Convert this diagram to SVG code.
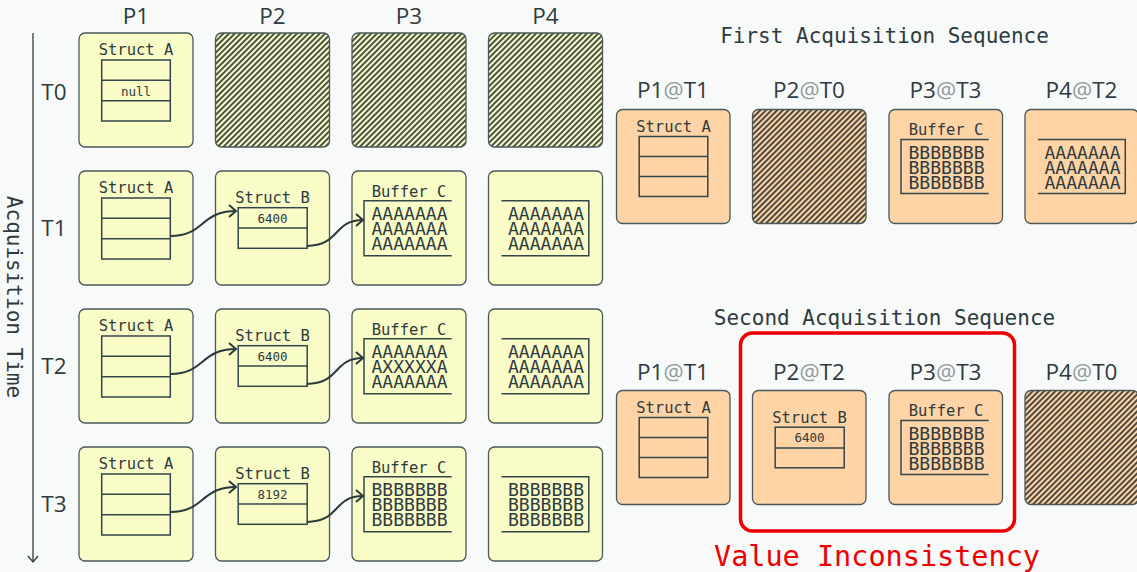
<svg xmlns="http://www.w3.org/2000/svg" width="1137" height="572" viewBox="0 0 1137 572">
  <defs>
    <style>
      .bg { fill: #f8f9f9; }
      .page { fill: #fafcc7; stroke: #4a5859; stroke-width: 1.3; }
      .page.o { fill: #fed4a6; }
      .page.hy { fill: url(#hatchY); }
      .page.ho { fill: url(#hatchO); }
      .tbl { fill: none; stroke: #33464a; stroke-width: 1.5; }
      .mono { font-family: "DejaVu Sans Mono", "Liberation Mono", monospace; fill: #2e3b3e; text-anchor: middle; }
      .sans { font-family: "Open Sans", "Noto Sans", "Liberation Sans", sans-serif; fill: #2e3b3e; text-anchor: middle; font-size: 22.5px; }
      .ttl { font-size: 15.5px; }
      .sm { font-size: 12.5px; }
      .data { font-size: 17.5px; }
      .head { font-size: 21px; }
      .at { fill: #8f9a9c; }
      .wire { fill: none; stroke: #2b3a3d; stroke-width: 2; marker-end: url(#ah); }
      .axis { fill: none; stroke: #2e3b3e; stroke-width: 1.3; }
    </style>
    <pattern id="hatchY" width="4" height="4" patternUnits="userSpaceOnUse" patternTransform="rotate(45)">
      <rect width="4" height="4" fill="#fafcc7"/>
      <line x1="2" y1="0" x2="2" y2="4" stroke="#1f2828" stroke-width="1.6"/>
    </pattern>
    <pattern id="hatchO" width="4" height="4" patternUnits="userSpaceOnUse" patternTransform="rotate(45)">
      <rect width="4" height="4" fill="#fed4a6"/>
      <line x1="2" y1="0" x2="2" y2="4" stroke="#1f2828" stroke-width="1.6"/>
    </pattern>
    <marker id="ah" markerUnits="userSpaceOnUse" markerWidth="12" markerHeight="14" refX="8" refY="7" orient="auto">
      <path d="M1,1 L8,7 L1,13" fill="none" stroke="#2b3a3d" stroke-width="2"/>
    </marker>
  </defs>

  <rect class="bg" width="1137" height="572"/>

  <!-- column and row headings -->
  <g id="headings">
    <text class="sans" x="136" y="23.5">P1</text>
    <text class="sans" x="272.5" y="23.5">P2</text>
    <text class="sans" x="409" y="23.5">P3</text>
    <text class="sans" x="545.5" y="23.5">P4</text>
    <text class="sans" x="54" y="100">T0</text>
    <text class="sans" x="54" y="236">T1</text>
    <text class="sans" x="54" y="374">T2</text>
    <text class="sans" x="54" y="511.5">T3</text>
  </g>

  <!-- time axis -->
  <g id="time-axis">
    <line class="axis" x1="33" y1="33" x2="33" y2="562"/>
    <path class="axis" d="M28,556 L33,562 L38,556"/>
    <text class="mono head" transform="translate(7,297) rotate(90)">Acquisition Time</text>
  </g>

  <!-- T0 row -->
  <g id="p1-t0" transform="translate(79,33)">
    <rect class="page" width="114" height="114" rx="6"/>
    <text class="mono ttl" x="57" y="22">Struct A</text>
    <rect class="tbl" x="22.7" y="27" width="68.6" height="61"/>
    <path class="tbl" d="M22.7,47.3H91.3M22.7,67.7H91.3"/>
    <text class="mono sm" x="57" y="62.5">null</text>
  </g>
  <g id="p2-t0" transform="translate(215.5,33)">
    <rect class="page hy" width="114" height="114" rx="6"/>
  </g>
  <g id="p3-t0" transform="translate(352,33)">
    <rect class="page hy" width="114" height="114" rx="6"/>
  </g>
  <g id="p4-t0" transform="translate(488.5,33)">
    <rect class="page hy" width="114" height="114" rx="6"/>
  </g>

  <!-- T1 row -->
  <g id="p1-t1" transform="translate(79,171)">
    <rect class="page" width="114" height="114" rx="6"/>
    <text class="mono ttl" x="57" y="22">Struct A</text>
    <rect class="tbl" x="22.7" y="27" width="68.6" height="61"/>
    <path class="tbl" d="M22.7,47.3H91.3M22.7,67.7H91.3"/>
  </g>
  <g id="p2-t1" transform="translate(215.5,171)">
    <rect class="page" width="114" height="114" rx="6"/>
    <text class="mono ttl" x="57" y="32.3">Struct B</text>
    <rect class="tbl" x="22.7" y="36.7" width="69" height="40.6"/>
    <path class="tbl" d="M22.7,57H91.7"/>
    <text class="mono sm" x="57" y="51.7">6400</text>
  </g>
  <g id="p3-t1" transform="translate(352,171)">
    <rect class="page" width="114" height="114" rx="6"/>
    <text class="mono ttl" x="57" y="25.5">Buffer C</text>
    <path class="tbl" d="M99.7,29.7H12V84.7H99.7"/>
    <text class="mono data" x="57.5" y="49" textLength="76" lengthAdjust="spacingAndGlyphs">AAAAAAA</text>
    <text class="mono data" x="57.5" y="64" textLength="76" lengthAdjust="spacingAndGlyphs">AAAAAAA</text>
    <text class="mono data" x="57.5" y="79" textLength="76" lengthAdjust="spacingAndGlyphs">AAAAAAA</text>
  </g>
  <g id="p4-t1" transform="translate(488.5,171)">
    <rect class="page" width="114" height="114" rx="6"/>
    <path class="tbl" d="M13,29.7H100.3V84.7H13"/>
    <text class="mono data" x="57.5" y="49" textLength="76" lengthAdjust="spacingAndGlyphs">AAAAAAA</text>
    <text class="mono data" x="57.5" y="64" textLength="76" lengthAdjust="spacingAndGlyphs">AAAAAAA</text>
    <text class="mono data" x="57.5" y="79" textLength="76" lengthAdjust="spacingAndGlyphs">AAAAAAA</text>
  </g>

  <!-- T2 row -->
  <g id="p1-t2" transform="translate(79,309)">
    <rect class="page" width="114" height="114" rx="6"/>
    <text class="mono ttl" x="57" y="22">Struct A</text>
    <rect class="tbl" x="22.7" y="27" width="68.6" height="61"/>
    <path class="tbl" d="M22.7,47.3H91.3M22.7,67.7H91.3"/>
  </g>
  <g id="p2-t2" transform="translate(215.5,309)">
    <rect class="page" width="114" height="114" rx="6"/>
    <text class="mono ttl" x="57" y="32.3">Struct B</text>
    <rect class="tbl" x="22.7" y="36.7" width="69" height="40.6"/>
    <path class="tbl" d="M22.7,57H91.7"/>
    <text class="mono sm" x="57" y="51.7">6400</text>
  </g>
  <g id="p3-t2" transform="translate(352,309)">
    <rect class="page" width="114" height="114" rx="6"/>
    <text class="mono ttl" x="57" y="25.5">Buffer C</text>
    <path class="tbl" d="M99.7,29.7H12V84.7H99.7"/>
    <text class="mono data" x="57.5" y="49" textLength="76" lengthAdjust="spacingAndGlyphs">AAAAAAA</text>
    <text class="mono data" x="57.5" y="64" textLength="76" lengthAdjust="spacingAndGlyphs">AXXXXXA</text>
    <text class="mono data" x="57.5" y="79" textLength="76" lengthAdjust="spacingAndGlyphs">AAAAAAA</text>
  </g>
  <g id="p4-t2" transform="translate(488.5,309)">
    <rect class="page" width="114" height="114" rx="6"/>
    <path class="tbl" d="M13,29.7H100.3V84.7H13"/>
    <text class="mono data" x="57.5" y="49" textLength="76" lengthAdjust="spacingAndGlyphs">AAAAAAA</text>
    <text class="mono data" x="57.5" y="64" textLength="76" lengthAdjust="spacingAndGlyphs">AAAAAAA</text>
    <text class="mono data" x="57.5" y="79" textLength="76" lengthAdjust="spacingAndGlyphs">AAAAAAA</text>
  </g>

  <!-- T3 row -->
  <g id="p1-t3" transform="translate(79,447)">
    <rect class="page" width="114" height="114" rx="6"/>
    <text class="mono ttl" x="57" y="22">Struct A</text>
    <rect class="tbl" x="22.7" y="27" width="68.6" height="61"/>
    <path class="tbl" d="M22.7,47.3H91.3M22.7,67.7H91.3"/>
  </g>
  <g id="p2-t3" transform="translate(215.5,447)">
    <rect class="page" width="114" height="114" rx="6"/>
    <text class="mono ttl" x="57" y="32.3">Struct B</text>
    <rect class="tbl" x="22.7" y="36.7" width="69" height="40.6"/>
    <path class="tbl" d="M22.7,57H91.7"/>
    <text class="mono sm" x="57" y="51.7">8192</text>
  </g>
  <g id="p3-t3" transform="translate(352,447)">
    <rect class="page" width="114" height="114" rx="6"/>
    <text class="mono ttl" x="57" y="25.5">Buffer C</text>
    <path class="tbl" d="M99.7,29.7H12V84.7H99.7"/>
    <text class="mono data" x="57.5" y="49" textLength="76" lengthAdjust="spacingAndGlyphs">BBBBBBB</text>
    <text class="mono data" x="57.5" y="64" textLength="76" lengthAdjust="spacingAndGlyphs">BBBBBBB</text>
    <text class="mono data" x="57.5" y="79" textLength="76" lengthAdjust="spacingAndGlyphs">BBBBBBB</text>
  </g>
  <g id="p4-t3" transform="translate(488.5,447)">
    <rect class="page" width="114" height="114" rx="6"/>
    <path class="tbl" d="M13,29.7H100.3V84.7H13"/>
    <text class="mono data" x="57.5" y="49" textLength="76" lengthAdjust="spacingAndGlyphs">BBBBBBB</text>
    <text class="mono data" x="57.5" y="64" textLength="76" lengthAdjust="spacingAndGlyphs">BBBBBBB</text>
    <text class="mono data" x="57.5" y="79" textLength="76" lengthAdjust="spacingAndGlyphs">BBBBBBB</text>
  </g>

  <!-- pointers between structures -->
  <g id="connectors">
    <path class="wire" d="M170.3,236 C205,236 200,211 236,211"/>
    <path class="wire" d="M306.7,246 C340,246 333,220 363,220"/>
    <path class="wire" d="M170.3,374 C205,374 200,349 236,349"/>
    <path class="wire" d="M306.7,384 C340,384 333,358 363,358"/>
    <path class="wire" d="M170.3,512 C205,512 200,487 236,487"/>
    <path class="wire" d="M306.7,522 C340,522 333,496 363,496"/>
  </g>

  <!-- first acquisition sequence -->
  <g id="seq1-title">
    <text class="mono head" x="884.5" y="43">First Acquisition Sequence</text>
  </g>
  <g id="seq1-labels">
    <text class="sans" x="673" y="98.3">P1<tspan class="at">@</tspan>T1</text>
    <text class="sans" x="809" y="98.3">P2<tspan class="at">@</tspan>T0</text>
    <text class="sans" x="945.5" y="98.3">P3<tspan class="at">@</tspan>T3</text>
    <text class="sans" x="1081.5" y="98.3">P4<tspan class="at">@</tspan>T2</text>
  </g>
  <g id="s1-p1" transform="translate(616.5,109.5)">
    <rect class="page o" width="113.5" height="114" rx="6"/>
    <text class="mono ttl" x="57" y="22">Struct A</text>
    <rect class="tbl" x="22.7" y="27" width="68.6" height="60"/>
    <path class="tbl" d="M22.7,47H91.3M22.7,67H91.3"/>
  </g>
  <g id="s1-p2" transform="translate(752.5,109.5)">
    <rect class="page ho" width="113.5" height="114" rx="6"/>
  </g>
  <g id="s1-p3" transform="translate(889,109.5)">
    <rect class="page o" width="113.5" height="114" rx="6"/>
    <text class="mono ttl" x="57" y="25.5">Buffer C</text>
    <path class="tbl" d="M99.7,30H12V84H99.7"/>
    <text class="mono data" x="57.5" y="49" textLength="76" lengthAdjust="spacingAndGlyphs">BBBBBBB</text>
    <text class="mono data" x="57.5" y="64" textLength="76" lengthAdjust="spacingAndGlyphs">BBBBBBB</text>
    <text class="mono data" x="57.5" y="79" textLength="76" lengthAdjust="spacingAndGlyphs">BBBBBBB</text>
  </g>
  <g id="s1-p4" transform="translate(1025,109.5)">
    <rect class="page o" width="113.5" height="114" rx="6"/>
    <path class="tbl" d="M13,30H100.3V84H13"/>
    <text class="mono data" x="57.5" y="49" textLength="76" lengthAdjust="spacingAndGlyphs">AAAAAAA</text>
    <text class="mono data" x="57.5" y="64" textLength="76" lengthAdjust="spacingAndGlyphs">AAAAAAA</text>
    <text class="mono data" x="57.5" y="79" textLength="76" lengthAdjust="spacingAndGlyphs">AAAAAAA</text>
  </g>

  <!-- second acquisition sequence -->
  <g id="seq2-title">
    <text class="mono head" x="884.5" y="325">Second Acquisition Sequence</text>
  </g>
  <g id="seq2-labels">
    <text class="sans" x="673" y="380">P1<tspan class="at">@</tspan>T1</text>
    <text class="sans" x="809" y="380">P2<tspan class="at">@</tspan>T2</text>
    <text class="sans" x="945.5" y="380">P3<tspan class="at">@</tspan>T3</text>
    <text class="sans" x="1081.5" y="380">P4<tspan class="at">@</tspan>T0</text>
  </g>
  <g id="s2-p1" transform="translate(616.5,390.5)">
    <rect class="page o" width="113.5" height="114" rx="6"/>
    <text class="mono ttl" x="57" y="22">Struct A</text>
    <rect class="tbl" x="22.7" y="27" width="68.6" height="60"/>
    <path class="tbl" d="M22.7,47H91.3M22.7,67H91.3"/>
  </g>
  <g id="s2-p2" transform="translate(752.5,390.5)">
    <rect class="page o" width="113.5" height="114" rx="6"/>
    <text class="mono ttl" x="57" y="32.3">Struct B</text>
    <rect class="tbl" x="22.7" y="36.7" width="69" height="40.6"/>
    <path class="tbl" d="M22.7,57.5H91.7"/>
    <text class="mono sm" x="57" y="51.7">6400</text>
  </g>
  <g id="s2-p3" transform="translate(889,390.5)">
    <rect class="page o" width="113.5" height="114" rx="6"/>
    <text class="mono ttl" x="57" y="25.5">Buffer C</text>
    <path class="tbl" d="M99.7,30H12V84H99.7"/>
    <text class="mono data" x="57.5" y="49" textLength="76" lengthAdjust="spacingAndGlyphs">BBBBBBB</text>
    <text class="mono data" x="57.5" y="64" textLength="76" lengthAdjust="spacingAndGlyphs">BBBBBBB</text>
    <text class="mono data" x="57.5" y="79" textLength="76" lengthAdjust="spacingAndGlyphs">BBBBBBB</text>
  </g>
  <g id="s2-p4" transform="translate(1025,390.5)">
    <rect class="page ho" width="113.5" height="114" rx="6"/>
  </g>

  <!-- highlighted mismatch -->
  <g id="inconsistency">
    <rect x="740.5" y="333" width="274" height="198" rx="12" fill="none" stroke="#ee0000" stroke-width="3.5"/>
    <text class="mono" x="877" y="566" font-size="28.5" style="fill:#ee0000">Value Inconsistency</text>
  </g>
</svg>
